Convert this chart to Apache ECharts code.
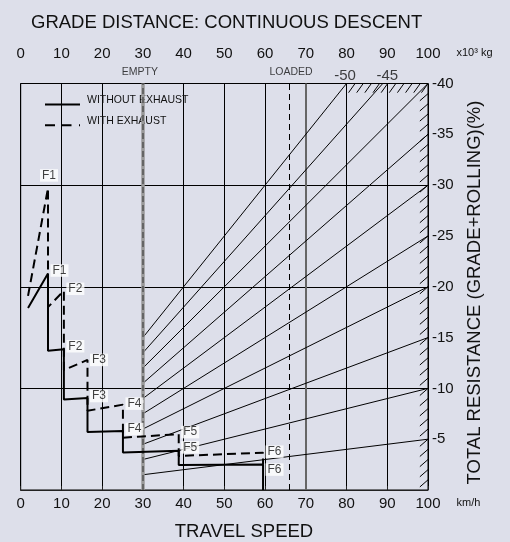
<!DOCTYPE html>
<html><head><meta charset="utf-8">
<script src="https://cdn.jsdelivr.net/npm/echarts@6/dist/echarts.min.js"></script>
<style>html,body{margin:0;padding:0;background:#dddfea;}#c{width:510px;height:542px;}</style>
</head><body><div id="c"></div>
<script>
// ---- data ----
// WITHOUT EXHAUST (solid) : travel speed km/h, total resistance %
const solidSpeed      = [1.8, 6.7, 6.7, 10.6, 10.6, 16.4, 16.4, 25.1, 25.1, 38.8, 38.8, 59.5, 59.5];
const solidResistance = [-17.9, -21.3, -13.7, -13.85, -8.9, -9.05, -5.7, -5.8, -3.7, -3.85, -2.45, -2.5, 0];
const solidGearAt     = {1:'F1', 3:'F2', 5:'F3', 7:'F4', 9:'F5', 11:'F6'};
// WITH EXHAUST (dashed)
const exhaustSpeed      = [1.8, 6.7, 6.7, 10.6, 10.6, 16.4, 16.4, 25.1, 25.1, 38.8, 38.8, 59.5, 59.5];
const exhaustResistance = [-19.1, -29.7, -18.0, -19.6, -11.8, -12.8, -7.8, -8.4, -5.15, -5.5, -3.35, -3.67, -2.5];
const exhaustGearAt     = {1:'F1', 3:'F2', 5:'F3', 7:'F4', 9:'F5', 11:'F6'};
// grade lines (weight x10^3 kg vs total resistance %)
const gradeValues          = [-5, -10, -15, -20, -25, -30, -35, -40, -45, -50];
const gradeStartWeight     = 30;
const gradeStartResistance = [-1.5, -3, -4.5, -6, -7.5, -9, -10.5, -12, -13.5, -15];
const gradeEndWeight       = [100, 100, 100, 100, 100, 100, 100, 100, 88.9, 80];
const gradeEndResistance   = [-5, -10, -15, -20, -25, -30, -35, -40, -40, -40];
const emptyWeight = 30, loadedWeight = 66;
// hatching positions along the scale border
const topHatchWeight = [80.5, 82.5, 84.5, 86.5, 88.5, 90.5, 92.5, 94.5, 96.5, 98.4];
const rightHatchResistance = [-39,-38,-37,-36,-35,-34,-33,-32,-31,-30,-29,-28,-27,-26,-25,-24,-23,-22,-21,-20,-19,-18,-17,-16,-15,-14,-13,-12,-11,-10,-9,-8,-7,-6,-5,-4,-3,-2,-1];

// ---- chart ----
const FONT = '"Liberation Sans", Arial, sans-serif';
const INK = '#111';
const chart = echarts.init(document.getElementById('c'));

function curveData(xs, ys) { return xs.map((x, i) => [x, ys[i]]); }
function gearLabels(xs, ys, map, dash) {
  const offs = dash ? {F1:null, F2:-2, F3:0, F4:-1, F5:-2, F6:-1} : {F1:-3, F2:-3, F3:-2, F4:-2, F5:-3.5, F6:5};
  return Object.keys(map).map(k => {
    const name = map[k];
    const item = {name: name, value: [xs[k], ys[k]]};
    if (offs[name] === null) item.label = {position: 'top', distance: 6, offset: [1, 0]};
    else item.label = {position: 'right', distance: 2, offset: [0, offs[name]]};
    return item;
  });
}
const gradeLines = gradeValues.map((g, i) => ({coords: [[gradeStartWeight, gradeStartResistance[i]], [gradeEndWeight[i], gradeEndResistance[i]]]}));
const hatchLines = topHatchWeight.map(w => ({coords: [[w, -39.1], [Math.min(w + 1.6, 100), -40]]}))
  .concat(rightHatchResistance.map(r => ({coords: [[100, r], [98, r + 0.7]]})));

const labelStyle = {show: true, formatter: p => p.name, backgroundColor: '#fff', padding: [1, 2, 0, 2],
  fontSize: 12, lineHeight: 11.5, color: INK, fontFamily: FONT};

chart.setOption({
  animation: false,
  backgroundColor: '#dddfea',
  textStyle: {fontFamily: FONT},
  title: {text: 'GRADE DISTANCE: CONTINUOUS DESCENT', left: 31, top: 13.5, padding: 0,
    textStyle: {fontSize: 18.5, fontWeight: 'normal', color: INK, fontFamily: FONT}},
  legend: {
    data: [
      {name: 'WITHOUT EXHAUST', icon: 'path://M0,0L0,14Z M37,0L37,14Z M0,10H35V12H0Z'},
      {name: 'WITH EXHAUST', icon: 'path://M0,0L0,14Z M37,0L37,14Z M0,10H10V12H0Z M16.5,10H26.5V12H16.5Z M34,10H35V12H34Z'}
    ],
    orient: 'vertical', left: 45, top: 93.5, padding: 0, itemWidth: 37, itemHeight: 14, itemGap: 6.7,
    itemStyle: {borderWidth: 0},
    textStyle: {fontSize: 10.5, color: INK, fontFamily: FONT}
  },
  grid: {left: 20.7, right: 82, top: 83.5, bottom: 52, show: true, borderColor: '#000', borderWidth: 1},
  xAxis: [
    {type: 'value', position: 'bottom', min: 0, max: 100, interval: 10,
      axisLine: {show: false}, axisTick: {show: false},
      axisLabel: {fontSize: 15, color: INK, margin: 6, fontFamily: FONT},
      splitLine: {show: true, lineStyle: {color: '#000', width: 1}}},
    {type: 'value', position: 'top', offset: 19, min: 0, max: 100, interval: 10,
      axisLine: {show: true, lineStyle: {color: '#222', width: 1}},
      axisTick: {show: true, length: 4, lineStyle: {color: '#222'}},
      axisLabel: {fontSize: 15, color: INK, margin: 3.5, fontFamily: FONT},
      splitLine: {show: false}}
  ],
  yAxis: [
    {type: 'value', position: 'right', min: -40, max: 0, interval: 5, inverse: true,
      axisLine: {show: false}, axisTick: {show: false},
      axisLabel: {fontSize: 15, color: INK, margin: 4, fontFamily: FONT, formatter: v => v === 0 ? '' : String(v)},
      splitLine: {show: false}},
    {type: 'value', position: 'right', min: -40, max: 0, interval: 10, inverse: true,
      axisLine: {show: false}, axisTick: {show: false}, axisLabel: {show: false},
      splitLine: {show: true, lineStyle: {color: '#000', width: 1}}}
  ],
  graphic: [
    {type: 'text', left: 456.5, top: 47.5, style: {text: 'x10³ kg', fill: INK, font: '11px ' + FONT}},
    {type: 'text', left: 456.5, top: 497, style: {text: 'km/h', fill: INK, font: '11px ' + FONT}},
    {type: 'text', x: 244, y: 532, style: {text: 'TRAVEL SPEED', font: '18.5px ' + FONT, fill: INK, textAlign: 'center', textVerticalAlign: 'middle'}},
    {type: 'text', x: 475, y: 292.5, rotation: Math.PI / 2, style: {text: 'TOTAL RESISTANCE (GRADE+ROLLING)(%)', font: '18.5px ' + FONT, fill: INK, textAlign: 'center', textVerticalAlign: 'middle'}}
  ],
  series: [
    {type: 'lines', coordinateSystem: 'cartesian2d', xAxisIndex: 0, yAxisIndex: 0, z: 2, silent: true,
      lineStyle: {color: '#666', width: 2, opacity: 1}, data: [{coords: [[70, 0], [70, -40]]}]},
    {type: 'lines', coordinateSystem: 'cartesian2d', xAxisIndex: 1, yAxisIndex: 0, z: 3, silent: true,
      lineStyle: {color: '#000', width: 1, opacity: 1}, data: gradeLines},
    {type: 'lines', coordinateSystem: 'cartesian2d', xAxisIndex: 1, yAxisIndex: 0, z: 3, silent: true,
      lineStyle: {color: '#000', width: 1, opacity: 1}, data: hatchLines},
    {type: 'lines', coordinateSystem: 'cartesian2d', xAxisIndex: 1, yAxisIndex: 0, z: 4, silent: true,
      lineStyle: {color: '#999', width: 3.5, opacity: 1}, data: [{coords: [[emptyWeight, 0], [emptyWeight, -40]]}]},
    {type: 'lines', coordinateSystem: 'cartesian2d', xAxisIndex: 1, yAxisIndex: 0, z: 4, silent: true,
      lineStyle: {color: '#555', width: 1.5, type: [6, 3], opacity: 1}, data: [{coords: [[emptyWeight, 0], [emptyWeight, -40]]}]},
    {type: 'lines', coordinateSystem: 'cartesian2d', xAxisIndex: 1, yAxisIndex: 0, z: 4, silent: true,
      lineStyle: {color: '#000', width: 1, type: [6, 4], opacity: 1}, data: [{coords: [[loadedWeight, 0], [loadedWeight, -40]]}]},
    {name: 'WITHOUT EXHAUST', type: 'line', xAxisIndex: 0, yAxisIndex: 0, z: 6, symbol: 'none',
      color: '#000', lineStyle: {color: '#000', width: 2}, data: curveData(solidSpeed, solidResistance)},
    {name: 'WITH EXHAUST', type: 'line', xAxisIndex: 0, yAxisIndex: 0, z: 6, symbol: 'none',
      color: '#000', lineStyle: {color: '#000', width: 2, type: [9, 5]}, data: curveData(exhaustSpeed, exhaustResistance)},
    {name: 'gears-solid', type: 'scatter', xAxisIndex: 0, yAxisIndex: 0, z: 8, symbolSize: 1, silent: true,
      itemStyle: {color: 'transparent'}, label: labelStyle, data: gearLabels(solidSpeed, solidResistance, solidGearAt, false)},
    {name: 'gears-exhaust', type: 'scatter', xAxisIndex: 0, yAxisIndex: 0, z: 8, symbolSize: 1, silent: true,
      itemStyle: {color: 'transparent'}, label: labelStyle, data: gearLabels(exhaustSpeed, exhaustResistance, exhaustGearAt, true)},
    {name: 'notes', type: 'scatter', xAxisIndex: 1, yAxisIndex: 0, z: 8, symbolSize: 1, silent: true,
      itemStyle: {color: 'transparent'},
      label: {show: true, formatter: p => p.name, color: INK, fontFamily: FONT},
      data: [
        {name: 'EMPTY', value: [emptyWeight, -40], label: {position: 'top', distance: 5.5, fontSize: 10.5, offset: [-3, 0]}},
        {name: 'LOADED', value: [loadedWeight, -40], label: {position: 'top', distance: 5.5, fontSize: 10.5, offset: [1.5, 0]}},
        {name: String(gradeValues[9]), value: [gradeEndWeight[9], gradeEndResistance[9]], label: {position: 'top', distance: 0, fontSize: 15, offset: [-1.5, 0]}},
        {name: String(gradeValues[8]), value: [gradeEndWeight[8], gradeEndResistance[8]], label: {position: 'top', distance: 0, fontSize: 15, offset: [4.5, 0]}}
      ]}
  ]
});
</script></body></html>
